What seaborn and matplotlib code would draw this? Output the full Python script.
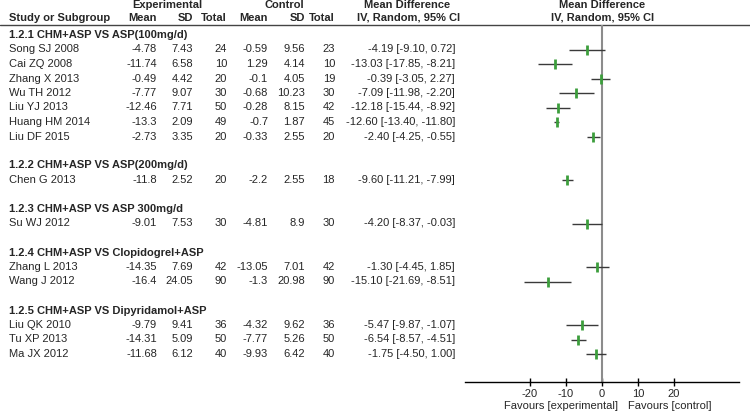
import pandas as pd
import matplotlib.pyplot as plt
import seaborn as sns

# Study level data
groups = ["1.2.1 CHM+ASP VS ASP(100mg/d)", "1.2.2 CHM+ASP VS ASP(200mg/d)",
          "1.2.3 CHM+ASP VS ASP 300mg/d", "1.2.4 CHM+ASP VS Clopidogrel+ASP",
          "1.2.5 CHM+ASP VS Dipyridamol+ASP"]
group_sizes = [7, 1, 1, 2, 3]
studies = ["Song SJ 2008", "Cai ZQ 2008", "Zhang X 2013", "Wu TH 2012", "Liu YJ 2013",
           "Huang HM 2014", "Liu DF 2015", "Chen G 2013", "Su WJ 2012", "Zhang L 2013",
           "Wang J 2012", "Liu QK 2010", "Tu XP 2013", "Ma JX 2012"]
exp_mean = [-4.78, -11.74, -0.49, -7.77, -12.46, -13.3, -2.73, -11.8, -9.01, -14.35,
            -16.4, -9.79, -14.31, -11.68]
exp_sd = [7.43, 6.58, 4.42, 9.07, 7.71, 2.09, 3.35, 2.52, 7.53, 7.69, 24.05, 9.41, 5.09, 6.12]
exp_n = [24, 10, 20, 30, 50, 49, 20, 20, 30, 42, 90, 36, 50, 40]
ctl_mean = [-0.59, 1.29, -0.1, -0.68, -0.28, -0.7, -0.33, -2.2, -4.81, -13.05, -1.3,
            -4.32, -7.77, -9.93]
ctl_sd = [9.56, 4.14, 4.05, 10.23, 8.15, 1.87, 2.55, 2.55, 8.9, 7.01, 20.98, 9.62, 5.26, 6.42]
ctl_n = [23, 10, 19, 30, 42, 45, 20, 18, 30, 42, 90, 36, 50, 40]
md = [-4.19, -13.03, -0.39, -7.09, -12.18, -12.60, -2.40, -9.60, -4.20, -1.30, -15.10,
      -5.47, -6.54, -1.75]
ci_lo = [-9.10, -17.85, -3.05, -11.98, -15.44, -13.40, -4.25, -11.21, -8.37, -4.45,
         -21.69, -9.87, -8.57, -4.50]
ci_hi = [0.72, -8.21, 2.27, -2.20, -8.92, -11.80, -0.55, -7.99, -0.03, 1.85, -8.51,
         -1.07, -4.51, 1.00]
x_ticks = [-20, -10, 0, 10, 20]

# row layout: group header, its studies, a blank row
header_rows = []
study_rows = []
r = 0
for n in group_sizes:
    header_rows.append(r)
    study_rows.extend(range(r + 1, r + 1 + n))
    r += n + 2

df = pd.DataFrame({"study": studies, "md": md, "lo": ci_lo, "hi": ci_hi, "row": study_rows})

sns.set_style("white")
plt.rcParams['font.family'] = ['Liberation Sans', 'DejaVu Sans']
plt.rcParams['axes.unicode_minus'] = False

W, H = 750, 413
fig = plt.figure(figsize=(7.5, 4.13), dpi=100)
tax = fig.add_axes([0, 0, 1, 1])
tax.set_xlim(0, W)
tax.set_ylim(H, 0)
tax.axis("off")

def ypix(row):
    return 35 + 14.5 * row

fs = 8
bold = dict(fontsize=fs, fontweight="bold", va="center")
norm = dict(fontsize=fs, va="center")

# headers
tax.text(167, 5, "Experimental", ha="center", **bold)
tax.text(284, 5, "Control", ha="center", **bold)
tax.text(407, 5, "Mean Difference", ha="center", **bold)
tax.text(602, 5, "Mean Difference", ha="center", **bold)
tax.text(9, 18, "Study or Subgroup", ha="left", **bold)
col_x = [157, 193, 227, 268, 305, 335]
for x, lab in zip(col_x, ["Mean", "SD", "Total", "Mean", "SD", "Total"]):
    tax.text(x, 18, lab, ha="right", **bold)
tax.text(409, 18, "IV, Random, 95% CI", ha="center", **bold)
tax.text(603, 18, "IV, Random, 95% CI", ha="center", **bold)
tax.plot([0, W], [25, 25], color="#444444", lw=1)

for g, row in zip(groups, header_rows):
    tax.text(9, ypix(row), g, ha="left", **bold)

for i, row in enumerate(study_rows):
    y = ypix(row)
    tax.text(9, y, studies[i], ha="left", **norm)
    vals = [f"{exp_mean[i]:g}", f"{exp_sd[i]:g}", str(exp_n[i]),
            f"{ctl_mean[i]:g}", f"{ctl_sd[i]:g}", str(ctl_n[i])]
    for x, v in zip(col_x, vals):
        tax.text(x, y, v, ha="right", **norm)
    tax.text(455, y, f"{md[i]:.2f} [{ci_lo[i]:.2f}, {ci_hi[i]:.2f}]", ha="right", **norm)

tax.text(618, 406, "Favours [experimental]", ha="right", **norm)
tax.text(628, 406, "Favours [control]", ha="left", **norm)

# forest panel
left, right, top, bottom = 465, 739, 25, 382
fax = fig.add_axes([left / W, (H - bottom) / H, (right - left) / W, (bottom - top) / H])
fax.patch.set_alpha(0)
fax.set_xlim(-38, 38)
fax.set_ylim((bottom - 35) / 14.5, (top - 35) / 14.5)
fax.hlines(df["row"], df["lo"], df["hi"], color="#3a3a3a", lw=1, zorder=2)
fax.axvline(0, color="#8c8c8c", lw=1.5, zorder=1)
sns.scatterplot(data=df, x="md", y="row", marker="|", s=45, linewidth=2,
                color="#3c9e3c", ax=fax, zorder=3, legend=False)
fax.set_xticks(x_ticks)
fax.set_yticks([])
fax.set_xlabel("")
fax.set_ylabel("")
for s in ["top", "left", "right"]:
    fax.spines[s].set_visible(False)
fax.spines["bottom"].set_color("black")
fax.spines["bottom"].set_linewidth(1)
fax.tick_params(axis="x", direction="inout", length=6, width=1, labelsize=fs, pad=2,
                bottom=True, color="black")

fig.savefig("out.png", dpi=100)
